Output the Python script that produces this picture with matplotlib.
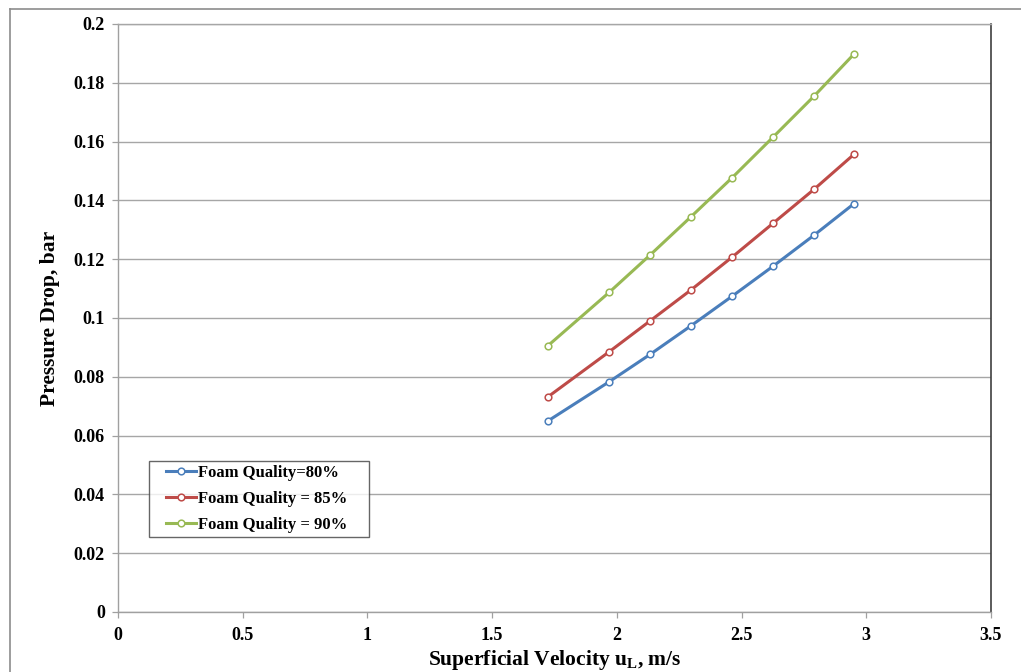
import matplotlib.pyplot as plt
from matplotlib.lines import Line2D
from matplotlib.legend_handler import HandlerLine2D

plt.rcParams['font.family'] = ['Liberation Serif', 'DejaVu Serif']
plt.rcParams['font.weight'] = 'bold'
plt.rcParams['mathtext.fontset'] = 'custom'
plt.rcParams['mathtext.rm'] = 'Liberation Serif:bold'
plt.rcParams['mathtext.bf'] = 'Liberation Serif:bold'

# superficial liquid velocity, m/s
velocity = [1.724, 1.969, 2.133, 2.298, 2.462, 2.626, 2.791, 2.951]
# pressure drop, bar, for each foam quality
dp_80 = [0.0650, 0.0783, 0.0876, 0.0974, 0.1074, 0.1176, 0.1282, 0.1389]
dp_85 = [0.0732, 0.0885, 0.0990, 0.1096, 0.1207, 0.1322, 0.1438, 0.1557]
dp_90 = [0.0906, 0.1087, 0.1214, 0.1345, 0.1477, 0.1615, 0.1755, 0.1898]
labels = ['Foam Quality=80%', 'Foam Quality = 85%', 'Foam Quality = 90%']

line_colors = ['#4A7EBB', '#BE4B48', '#98B954']

fig = plt.figure(figsize=(10.21, 6.72), dpi=100)
ax = fig.add_axes([118/1021, 1 - 612/672, (991 - 118)/1021, (612 - 24)/672])

for ys, c, lab in zip([dp_80, dp_85, dp_90], line_colors, labels):
    ax.plot(velocity, ys, color=c, lw=2.2, marker='o', ms=4.8,
            mfc='white', mec=c, mew=1.1, label=lab, zorder=3)

ax.set_xlim(0, 3.5)
ax.set_ylim(0, 0.2)
ax.set_xticks([0, 0.5, 1, 1.5, 2, 2.5, 3, 3.5])
ax.set_xticklabels(['0', '0.5', '1', '1.5', '2', '2.5', '3', '3.5'])
ax.set_yticks([i * 0.02 for i in range(11)])
ax.set_yticklabels(['0', '0.02', '0.04', '0.06', '0.08', '0.1', '0.12',
                    '0.14', '0.16', '0.18', '0.2'])
ax.yaxis.grid(True, color='#A6A6A6', lw=1.0)
ax.set_axisbelow(True)

ax.tick_params(axis='both', labelsize=13, length=4.5, width=0.9,
               color='#A0A0A0', pad=5)
ax.tick_params(axis='x', pad=6)
for lab in ax.get_xticklabels() + ax.get_yticklabels():
    lab.set_fontweight('bold')

for side in ['left', 'bottom']:
    ax.spines[side].set_color('#A0A0A0')
    ax.spines[side].set_linewidth(1.0)
ax.spines['top'].set_color('#A6A6A6')
ax.spines['top'].set_linewidth(1.0)
ax.spines['right'].set_color('#404040')
ax.spines['right'].set_linewidth(1.2)

ax.set_xlabel(r'Superficial Velocity u$_\mathrm{L}$, m/s', fontsize=15.5,
              fontweight='bold', labelpad=3)
ax.set_ylabel('Pressure Drop, bar', fontsize=15.5, fontweight='bold', labelpad=10)

# legend box spans x 149..369 px, bottom 75 px above the x axis
leg = ax.legend(loc='lower left', bbox_to_anchor=(31/873, 75/588, 220/873, 0.1),
                mode='expand', fontsize=12, frameon=True, fancybox=False,
                handlelength=2.6, handletextpad=0.1, borderpad=0.22,
                labelspacing=0.62, borderaxespad=0,
                handler_map={Line2D: HandlerLine2D(xpad=0.8)})
leg.get_frame().set_edgecolor('#404040')
leg.get_frame().set_linewidth(1.0)
for t in leg.get_texts():
    t.set_fontweight('bold')

# outer chart frame, cut off at the right and bottom edges
fig.add_artist(Line2D([9.5/1021, 1.0], [1 - 8.5/672, 1 - 8.5/672],
                      transform=fig.transFigure, color='#8C8C8C', lw=1.2))
fig.add_artist(Line2D([9.5/1021, 9.5/1021], [0.0, 1 - 8.5/672],
                      transform=fig.transFigure, color='#8C8C8C', lw=1.2))

fig.savefig('out.png', dpi=100)
